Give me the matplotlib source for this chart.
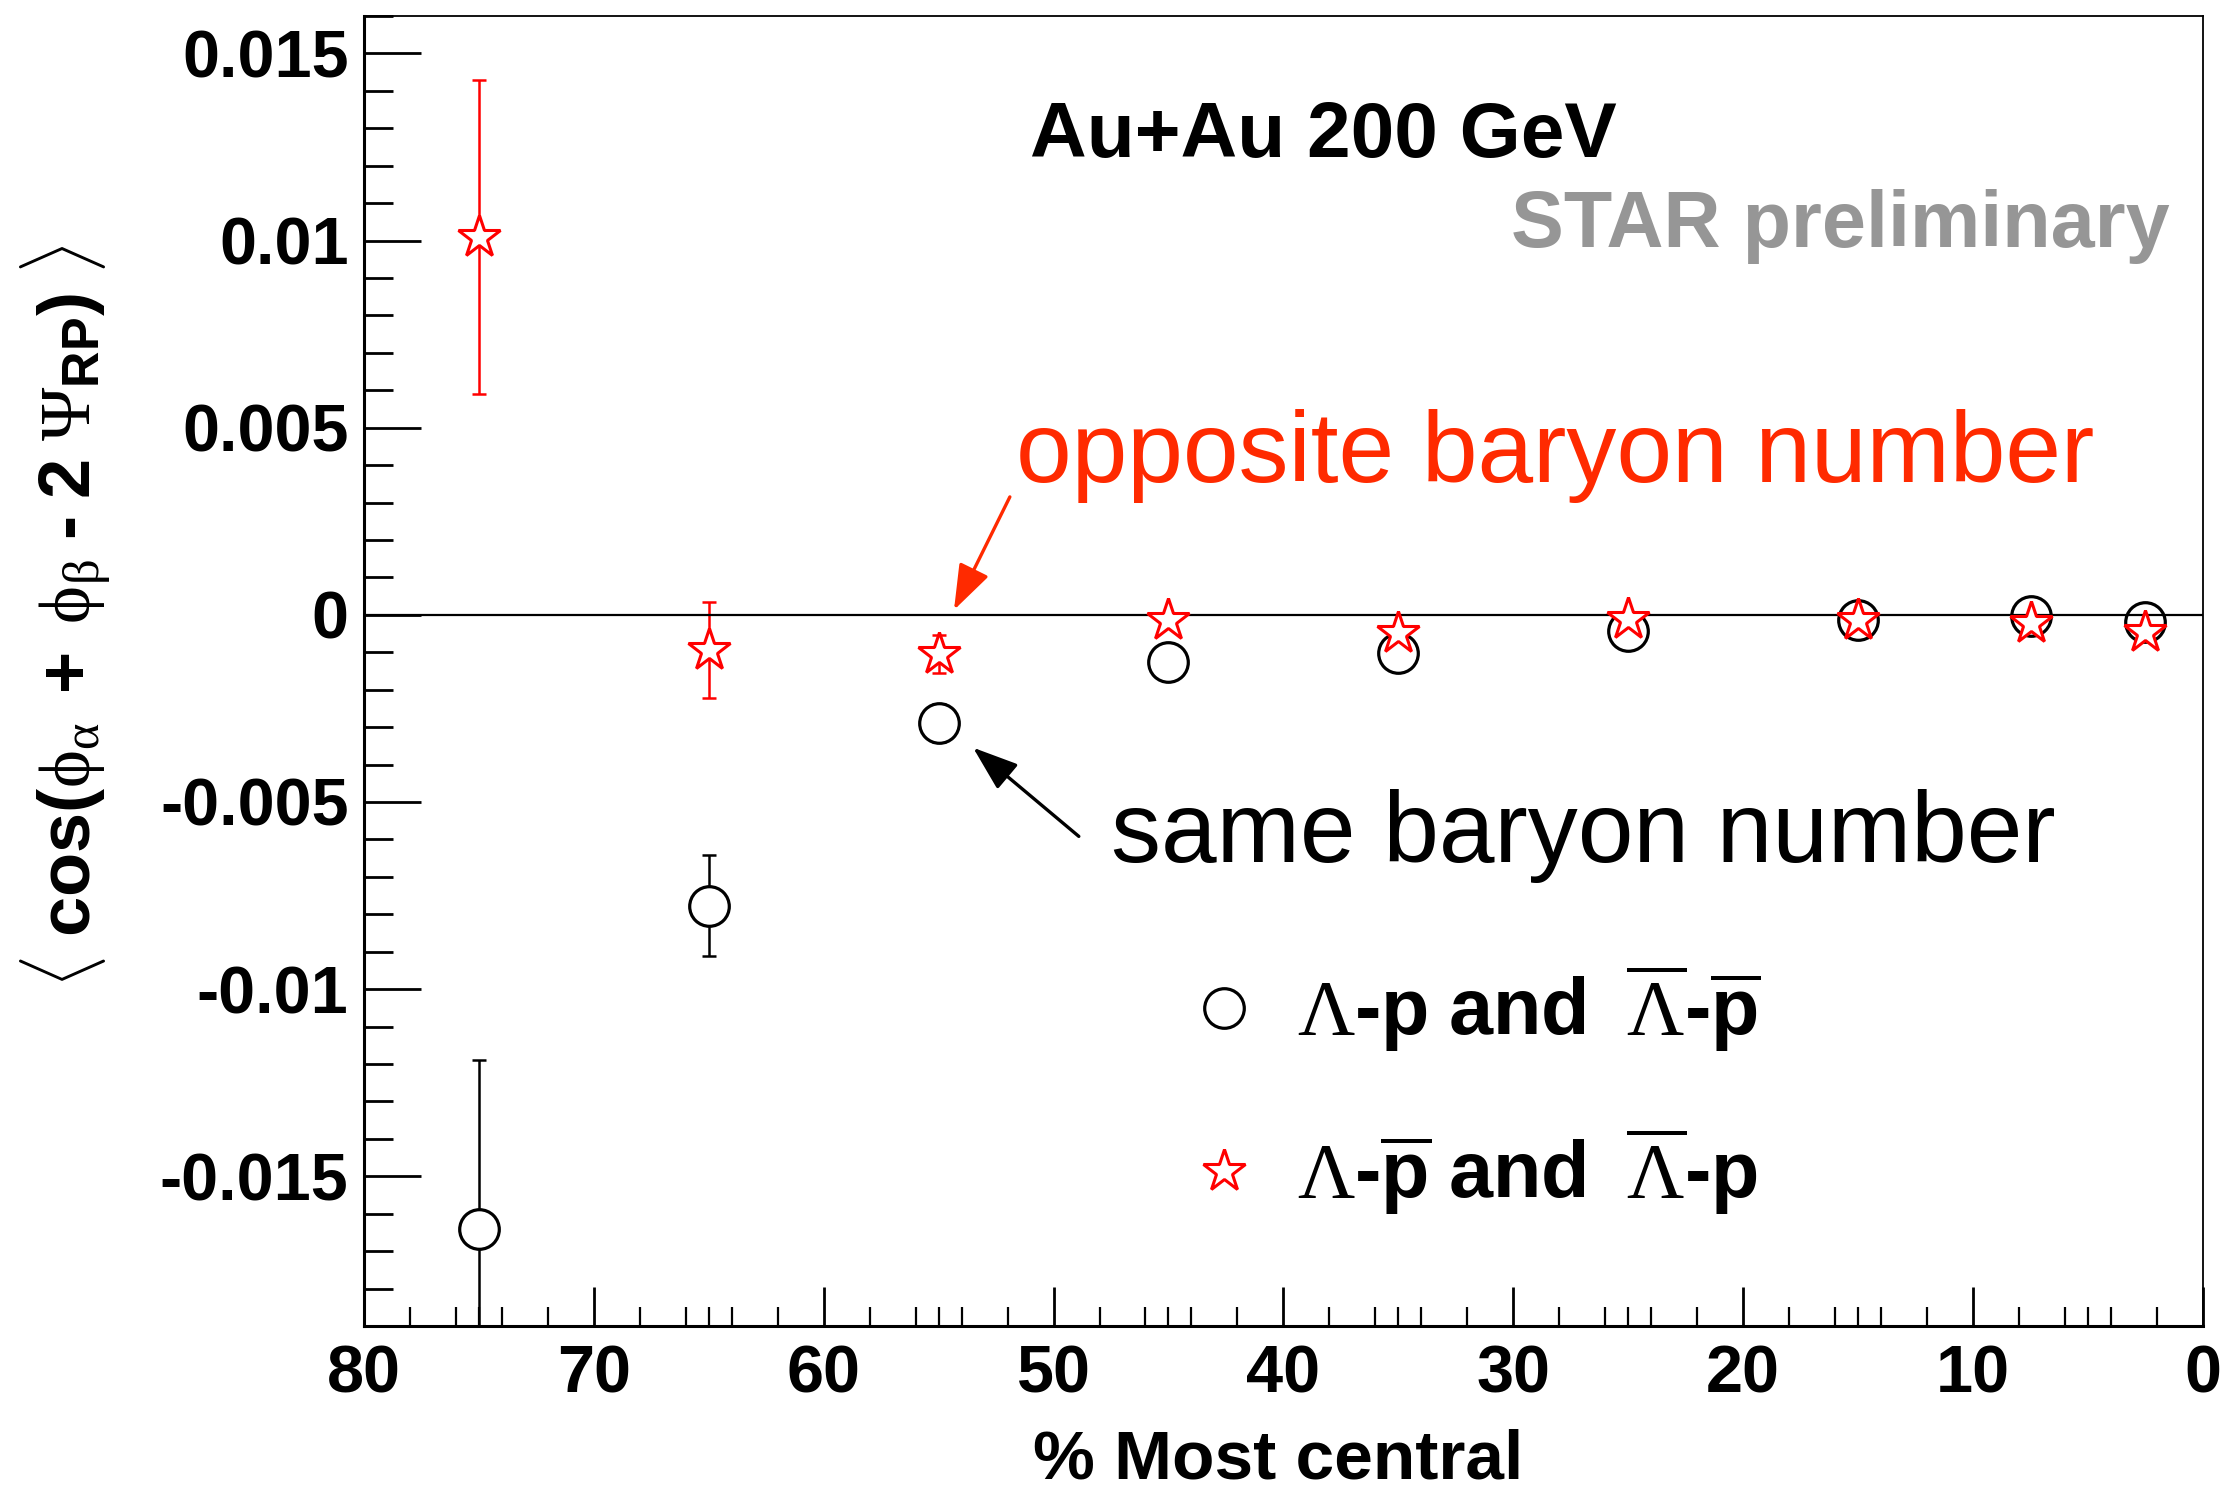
import numpy as np
import matplotlib
matplotlib.use('Agg')
import matplotlib.pyplot as plt
from matplotlib.lines import Line2D
from matplotlib.ticker import FixedLocator

plt.rcParams['font.family'] = ['Liberation Sans', 'DejaVu Sans']
plt.rcParams['mathtext.fontset'] = 'custom'
plt.rcParams['mathtext.rm'] = 'Liberation Serif'
plt.rcParams['mathtext.it'] = 'Liberation Serif:italic'
plt.rcParams['mathtext.bf'] = 'Liberation Sans:bold'
plt.rcParams['mathtext.sf'] = 'Liberation Sans'

##------------------------------------------
# centrality bins (% most central)
cent = [75, 65, 55, 45, 35, 25, 15, 7.5, 2.5]

# Lambda-p and antiLambda-antip (same baryon number)
same_val = [-0.0164, -0.00777, -0.00289, -0.00125, -0.00102, -0.00043, -0.00013, -0.00003, -0.00018]
same_err = [0.0045, 0.00134, 0.0005, 0.00015, 0.00015, 0.00015, 0.00015, 0.00015, 0.00015]

# Lambda-antip and antiLambda-p (opposite baryon number)
opp_val = [0.0101, -0.00093, -0.00105, -0.00015, -0.00049, -0.00011, -0.00013, -0.00022, -0.00046]
opp_err = [0.0042, 0.00128, 0.00051, 0.00015, 0.00015, 0.00015, 0.00015, 0.00015, 0.00015]

xticks = [80, 70, 60, 50, 40, 30, 20, 10, 0]
xticklabels = ['80', '70', '60', '50', '40', '30', '20', '10', '0']
yticks = [0.015, 0.01, 0.005, 0.0, -0.005, -0.01, -0.015]
yticklabels = ['0.015', '0.01', '0.005', '0', '-0.005', '-0.01', '-0.015']

# U+2010 hyphen, so mathtext does not turn it into a long minus sign
label_same = r'$\mathrm{\Lambda}\mathbf{‐p\ and\ \ }\overline{\mathrm{\Lambda}}\mathbf{‐}\overline{\mathbf{p}}$'
label_opp = r'$\mathrm{\Lambda}\mathbf{‐}\overline{\mathbf{p}}\mathbf{\ and\ \ }\overline{\mathrm{\Lambda}}\mathbf{‐p}$'
ylabel = (r'$\langle\ \mathbf{cos(}\mathrm{\phi}_{\mathrm{\alpha}}\mathbf{\ +\ }\mathrm{\phi}_{\mathrm{\beta}}'
          r'\mathbf{\ ‐\ 2\ }\mathrm{\Psi}_{\mathbf{RP}}\mathbf{)}\ \rangle$')

#------------------------------------------------------------
fig = plt.figure(figsize=(22.27, 14.90), dpi=100)
ax = fig.add_axes([0.1634, 0.1101, 0.8258, 0.8792])

red = '#ff0000'
txtred = '#ff2a00'

ax.axhline(0.0, color='black', lw=1.6, zorder=4)

# error bars
ax.errorbar(cent, same_val, yerr=same_err, fmt='none', ecolor='black', elinewidth=1.8,
            capsize=4.7, capthick=1.8, zorder=2)
ax.errorbar(cent, opp_val, yerr=opp_err, fmt='none', ecolor=red, elinewidth=1.8,
            capsize=4.7, capthick=1.8, zorder=2)

# markers
ax.plot(cent, same_val, ls='none', marker='o', ms=28.5, mfc='white', mec='black', mew=2.3, zorder=3)
ax.plot(cent, opp_val, ls='none', marker='*', ms=32, mfc='white', mec=red, mew=2.2, zorder=5)

ax.set_xlim(80, 0)
ax.set_ylim(-0.019, 0.016)

ax.xaxis.set_major_locator(FixedLocator(xticks))
ax.set_xticklabels(xticklabels)
ax.xaxis.set_minor_locator(FixedLocator([78, 76, 75, 74, 72, 68, 66, 65, 64, 62, 58, 56, 55, 54, 52,
                                         48, 46, 45, 44, 42, 38, 36, 35, 34, 32, 28, 26, 25, 24, 22,
                                         18, 16, 15, 14, 12, 8, 6, 5, 4, 2]))
ax.yaxis.set_major_locator(FixedLocator(yticks))
ax.set_yticklabels(yticklabels)
ax.yaxis.set_minor_locator(FixedLocator(np.arange(-0.018, 0.0161, 0.001)))

ax.tick_params(axis='x', which='major', direction='in', length=28, width=2.0, labelsize=48, pad=13)
ax.tick_params(axis='x', which='minor', direction='in', length=14, width=1.6)
ax.tick_params(axis='y', which='major', direction='in', length=41, width=2.0, labelsize=48, pad=11)
ax.tick_params(axis='y', which='minor', direction='in', length=21, width=2.0)
for lab in ax.get_xticklabels() + ax.get_yticklabels():
    lab.set_fontweight('bold')

ax.spines['left'].set_linewidth(2.2)
ax.spines['bottom'].set_linewidth(2.2)
ax.spines['top'].set_linewidth(1.3)
ax.spines['right'].set_linewidth(1.3)

ax.set_xlabel('% Most central', fontsize=50, fontweight='bold')
ax.xaxis.set_label_coords(0.497, -0.078)
ax.set_ylabel(ylabel, fontsize=52)
ax.yaxis.set_label_coords(-0.136, 0.542)

ax.text(0.362, 0.892, 'Au+Au 200 GeV', transform=ax.transAxes, fontsize=56.5,
        fontweight='bold', ha='left', va='baseline')
ax.text(0.982, 0.824, 'STAR preliminary', transform=ax.transAxes, fontsize=57,
        fontweight='bold', color='#969696', ha='right', va='baseline')
ax.text(0.3545, 0.6443, 'opposite baryon number', transform=ax.transAxes, fontsize=72,
        color=txtred, ha='left', va='baseline')
ax.text(0.4062, 0.3542, 'same baryon number', transform=ax.transAxes, fontsize=72,
        color='black', ha='left', va='baseline')

ax.annotate('', xy=(54.33, 0.00013), xytext=(51.9, 0.00315),
            arrowprops=dict(arrowstyle='-|>,head_length=1.4,head_width=0.5', color=txtred,
                            lw=2.4, mutation_scale=20, shrinkA=0, shrinkB=0))
ax.annotate('', xy=(53.5, -0.00355), xytext=(48.9, -0.00592),
            arrowprops=dict(arrowstyle='-|>,head_length=1.4,head_width=0.5', color='black',
                            lw=2.4, mutation_scale=20, shrinkA=0, shrinkB=0))

h_same = Line2D([], [], ls='none', marker='o', ms=28.5, mfc='white', mec='black', mew=2.3)
h_opp = Line2D([], [], ls='none', marker='*', ms=32, mfc='white', mec=red, mew=2.2)
ax.legend([h_same, h_opp], [label_same, label_opp], loc='upper left',
          bbox_to_anchor=(0.447, 0.2776), frameon=False, fontsize=57,
          handlelength=0.95, handletextpad=0.45, labelspacing=0.9,
          borderpad=0, borderaxespad=0)

fig.savefig('out.png', dpi=100)
